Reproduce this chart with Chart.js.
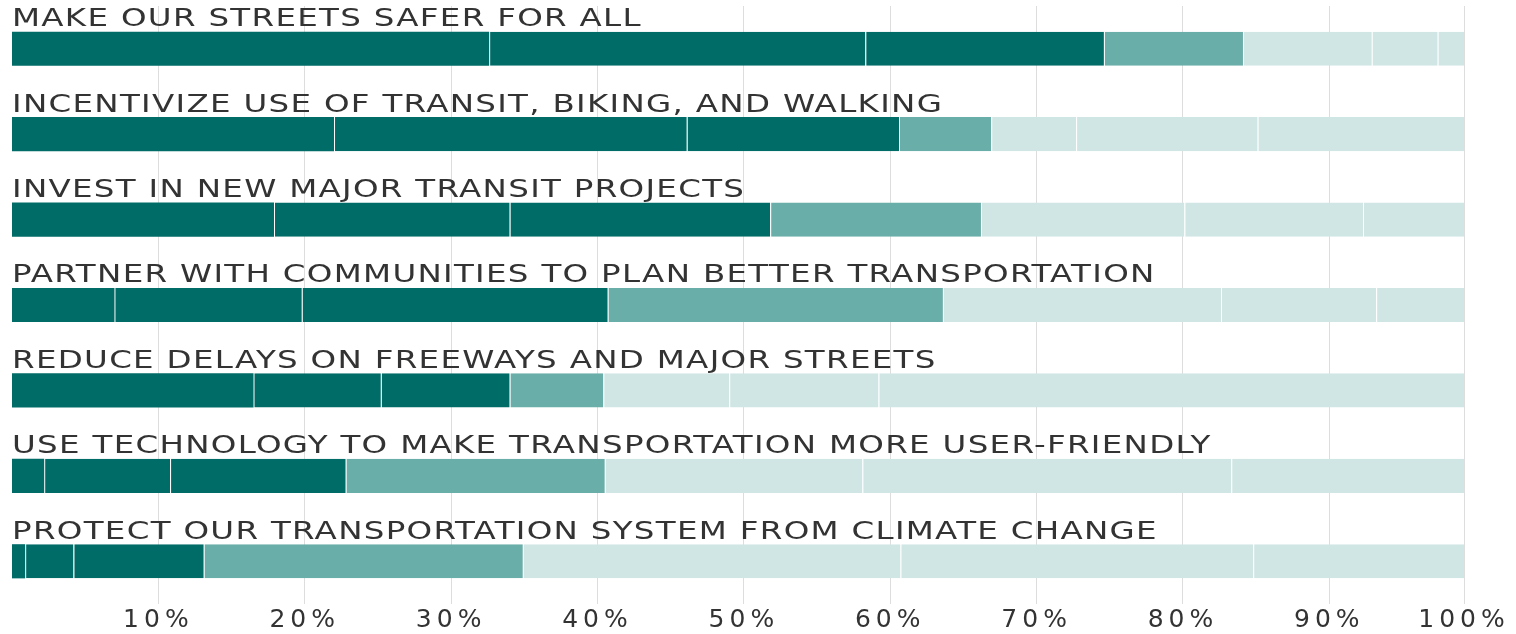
<!DOCTYPE html>
<html>
<head>
<meta charset="utf-8">
<script src="https://cdn.jsdelivr.net/npm/chart.js@4.4.1/dist/chart.umd.min.js"></script>
<style>
  html, body { margin: 0; padding: 0; background: #ffffff; }
  #wrap { width: 1516px; height: 634px; position: relative; }
</style>
</head>
<body>
<div id="wrap"><canvas id="c"></canvas></div>
<script>
// ---- data ----
const categories = [
  "MAKE OUR STREETS SAFER FOR ALL",
  "INCENTIVIZE USE OF TRANSIT, BIKING, AND WALKING",
  "INVEST IN NEW MAJOR TRANSIT PROJECTS",
  "PARTNER WITH COMMUNITIES TO PLAN BETTER TRANSPORTATION",
  "REDUCE DELAYS ON FREEWAYS AND MAJOR STREETS",
  "USE TECHNOLOGY TO MAKE TRANSPORTATION MORE USER-FRIENDLY",
  "PROTECT OUR TRANSPORTATION SYSTEM FROM CLIMATE CHANGE"
];
const series1 = [32.6, 22.0, 17.9, 7.0, 16.5, 2.2, 0.9];
const series2 = [25.7, 24.1, 16.1, 12.8, 8.7, 8.6, 3.3];
const series3 = [16.3, 14.5, 17.8, 20.9, 8.8, 12.0, 8.9];
const series4 = [9.5, 6.3, 14.4, 22.9, 6.4, 17.7, 21.8];
const series5 = [8.8, 5.8, 13.9, 19.0, 8.6, 17.6, 25.8];
const series6 = [4.5, 12.4, 12.2, 10.6, 10.2, 25.2, 24.1];
const series7 = [1.8, 14.1, 6.9, 6.0, 40.0, 15.9, 14.4];
const axisMax = 99.2;
const tickValues = [10, 20, 30, 40, 50, 60, 70, 80, 90, 99.2];
const tickLabels = ["10%", "20%", "30%", "40%", "50%", "60%", "70%", "80%", "90%", "100%"];

// ---- styles ----
const DARK = "rgb(0,108,104)";
const MID = "rgb(106,174,169)";
const LIGHT = "rgb(208,230,228)";
const TEXT = "#333333";
const seriesList = [series1, series2, series3, series4, series5, series6, series7];
const seriesColors = [DARK, DARK, DARK, MID, LIGHT, LIGHT, LIGHT];

const datasets = seriesList.map((arr, i) => ({
  label: "S" + (i + 1),
  data: arr,
  backgroundColor: seriesColors[i],
  borderColor: "rgba(255,255,255,0.75)",
  borderWidth: { left: i === 0 ? 0 : 1, right: 0, top: 0, bottom: 0 },
  borderSkipped: false,
  categoryPercentage: 1.0,
  barPercentage: 0.4
}));

const labelPlugin = {
  id: "catLabels",
  beforeDraw(chart) {
    chart.ctx.letterSpacing = "5px";
  },
  afterDatasetsDraw(chart) {
    const ctx = chart.ctx;
    const meta = chart.getDatasetMeta(0);
    const left = chart.chartArea.left;
    ctx.save();
    ctx.font = '25px "DejaVu Sans"';
    ctx.letterSpacing = "1px";
    ctx.fillStyle = TEXT;
    ctx.textBaseline = "alphabetic";
    ctx.textAlign = "left";
    categories.forEach((lab, i) => {
      const el = meta.data[i];
      const top = el.y - el.height / 2;
      ctx.save();
      ctx.translate(left, top - 5.5);
      ctx.scale(1.3, 1);
      ctx.fillText(lab, 0, 0);
      ctx.restore();
    });
    ctx.restore();
  },
  afterDraw(chart) {
    chart.ctx.letterSpacing = "0px";
  }
};

new Chart(document.getElementById("c"), {
  type: "bar",
  data: { labels: categories, datasets },
  options: {
    indexAxis: "y",
    responsive: true,
    maintainAspectRatio: false,
    animation: false,
    devicePixelRatio: 1,
    layout: { padding: { left: 12, right: 52, top: 6, bottom: 0 } },
    plugins: { legend: { display: false }, tooltip: { enabled: false } },
    scales: {
      x: {
        stacked: true,
        min: 0,
        max: axisMax,
        position: "bottom",
        afterBuildTicks(scale) {
          scale.ticks = tickValues.map(v => ({ value: v }));
        },
        afterFit(scale) { scale.height = 30; },
        grid: { color: "#dddddd", lineWidth: 1, drawTicks: false },
        border: { display: false },
        ticks: {
          padding: 1,
          color: TEXT,
          font: { family: "DejaVu Sans", size: 25 },
          maxRotation: 0,
          autoSkip: false,
          callback(value, index) { return tickLabels[index]; }
        }
      },
      y: {
        stacked: true,
        display: false,
        offset: true,
        grid: { display: false }
      }
    }
  },
  plugins: [labelPlugin]
});
</script>
</body>
</html>
